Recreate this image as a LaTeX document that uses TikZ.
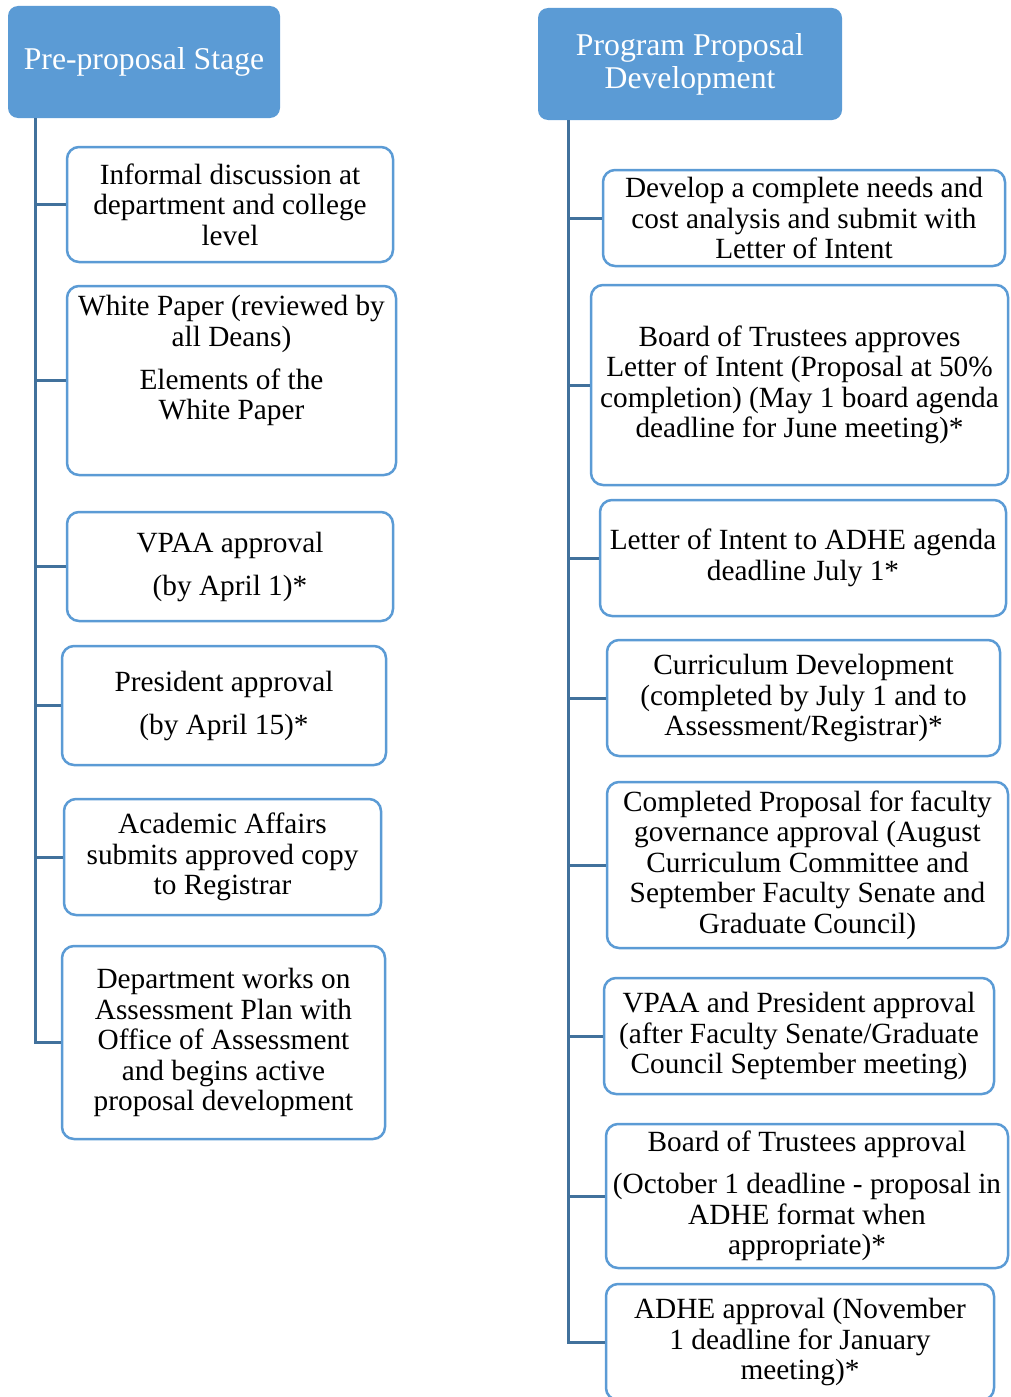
\documentclass[tikz,border=0pt]{standalone}
\usepackage{fontspec}
\setmainfont{Liberation Serif}
\usepackage{tikz}
\definecolor{hdrblue}{RGB}{91,155,213}
\definecolor{edgeblue}{RGB}{91,155,213}
\definecolor{linkblue}{RGB}{65,113,156}
\newcommand{\hdrfont}{\fontsize{31.7}{33}\selectfont}
\newcommand{\cellfont}{\fontsize{29.3}{30.5}\selectfont}
\tikzset{
  stage/.style={fill=hdrblue, rounded corners=10pt, text=white, font=\hdrfont, align=center, inner sep=0pt},
  task/.style={draw=edgeblue, line width=2.5pt, fill=white, rounded corners=12pt, font=\cellfont, align=center, inner sep=0pt},
  link/.style={draw=linkblue, line width=3pt}
}

\begin{document}
\begin{tikzpicture}[x=1pt,y=-1pt]
		\useasboundingbox (0,0) rectangle (1010,1397);
		\clip (0,0) rectangle (1010,1397);
		% left column
		\node[stage, minimum width=272, minimum height=112] (pre) at (144,62) {Pre-proposal Stage};
		\coordinate (spL) at (35,118);
		\node[task, minimum width=326, minimum height=115] (l1) at (230,204.5) {Informal discussion at\\department and college\\level};
		\node[task, minimum width=329, minimum height=189] (l2) at (231.5,380.5) {White Paper (reviewed by\\all Deans)\\[12.5pt]Elements of the\\White Paper\\[15pt]\mbox{}};
		\node[task, minimum width=326, minimum height=109] (l3) at (230,566.5) {VPAA approval\\[12.5pt](by April 1)*};
		\node[task, minimum width=324, minimum height=119] (l4) at (224,705.5) {President approval\\[12.5pt](by April 15)*};
		\node[task, minimum width=317, minimum height=116] (l5) at (222.5,857) {Academic Affairs\\submits approved copy\\to Registrar};
		\node[task, minimum width=323, minimum height=193] (l6) at (223.5,1042.5) {Department works on\\Assessment Plan with\\Office of Assessment\\and begins active\\proposal development};
		% right column
		\node[stage, minimum width=304, minimum height=112] (dev) at (690,64) {Program Proposal\\Development};
		\coordinate (spR) at (568,120);
		\node[task, minimum width=402, minimum height=96] (r1) at (804,218) {Develop a complete needs and\\cost analysis and submit with\\Letter of Intent};
		\node[task, minimum width=417, minimum height=200] (r2) at (799.5,385) {Board of Trustees approves\\Letter of Intent (Proposal at 50\%\\completion) (May 1 board agenda\\deadline for June meeting)*};
		\node[task, minimum width=406, minimum height=116] (r3) at (803,558) {Letter of Intent to ADHE agenda\\deadline July 1*};
		\node[task, minimum width=393, minimum height=116] (r4) at (803.5,698) {Curriculum Development\\(completed by July 1 and to\\Assessment/Registrar)*};
		\node[task, minimum width=401, minimum height=166] (r5) at (807.5,865) {Completed Proposal for faculty\\governance approval (August\\Curriculum Committee and\\September Faculty Senate and\\Graduate Council)};
		\node[task, minimum width=390, minimum height=116] (r6) at (799,1036) {VPAA and President approval\\(after Faculty Senate/Graduate\\Council September meeting)};
		\node[task, minimum width=402, minimum height=144] (r7) at (807,1196) {Board of Trustees approval\\[11.5pt](October 1 deadline - proposal in\\ADHE format when\\appropriate)*};
		\node[task, minimum width=388, minimum height=116] (r8) at (800,1342) {ADHE approval (November\\1 deadline for January\\meeting)*};
		\begin{scope}[every path/.style={link}]
		  \draw (spL) |- (l6.west);
		  \foreach \i in {1,...,5}
		    \draw (l\i.west) -- (l\i.west -| spL);
		  \draw (spR) |- (r8.west);
		  \foreach \i in {1,...,7}
		    \draw (r\i.west) -- (r\i.west -| spR);
		\end{scope}
	\end{tikzpicture}
\end{document}
